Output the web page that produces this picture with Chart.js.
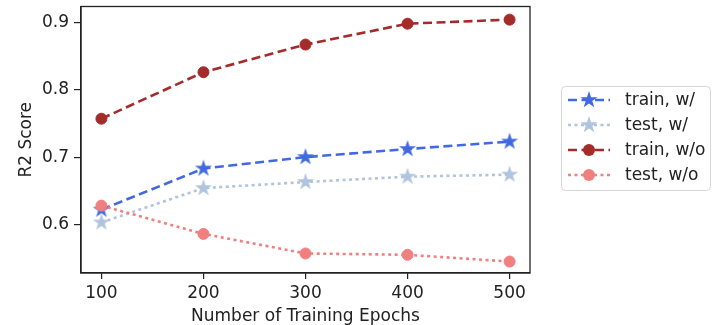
<!DOCTYPE html>
<html>
<head>
<meta charset="utf-8">
<script src="https://cdn.jsdelivr.net/npm/chart.js@4"></script>
<style>
  html, body { margin: 0; padding: 0; background: #fff; }
  #wrap { width: 720px; height: 325px; }
</style>
</head>
<body>
<div id="wrap"><canvas id="chart" width="720" height="325"></canvas></div>
<script>
// values
const epochs = [100, 200, 300, 400, 500];
const trainWith = [0.622, 0.683, 0.700, 0.712, 0.723];
const testWith = [0.603, 0.654, 0.663, 0.671, 0.674];
const trainWithout = [0.757, 0.826, 0.867, 0.898, 0.904];
const testWithout = [0.628, 0.586, 0.557, 0.555, 0.545];
const yTicks = [0.6, 0.7, 0.8, 0.9];
const xTicks = [100, 200, 300, 400, 500];
const labels = ['train, w/', 'test, w/', 'train, w/o', 'test, w/o'];

const TEXT = '#222';
const FONT = 'DejaVu Sans';
Chart.defaults.font.family = FONT;
Chart.defaults.color = TEXT;

// filled five point star, like matplotlib's '*' marker
function starImage(color, r) {
  const s = Math.ceil(r * 2 + 2);
  const c = document.createElement('canvas');
  c.width = s; c.height = s;
  const g = c.getContext('2d');
  g.translate(s / 2, s / 2);
  g.beginPath();
  for (let i = 0; i < 10; i++) {
    const rad = i % 2 ? r * 0.382 : r;
    const a = -Math.PI / 2 + i * Math.PI / 5;
    g.lineTo(rad * Math.cos(a), rad * Math.sin(a));
  }
  g.closePath();
  g.fillStyle = color;
  g.fill();
  return c;
}

const DASHED = [9, 4.5];
const DOTTED = [3, 3.5];

function series(label, values, color, dash, marker, order) {
  return {
    label: label,
    data: values.map((v, i) => ({ x: epochs[i], y: v })),
    borderColor: color,
    backgroundColor: color,
    borderWidth: 2.6,
    borderDash: dash,
    borderCapStyle: 'butt',
    pointStyle: marker === 'star' ? starImage(color, 9) : 'circle',
    pointRadius: 5.5,
    pointBorderWidth: 1,
    pointBackgroundColor: color,
    pointBorderColor: color,
    tension: 0,
    order: order,
    _marker: marker
  };
}

const datasets = [
  series(labels[0], trainWith, '#4169E1', DASHED, 'star', 4),
  series(labels[1], testWith, '#B0C4DE', DOTTED, 'star', 3),
  series(labels[2], trainWithout, '#A52A2A', DASHED, 'circle', 2),
  series(labels[3], testWithout, '#F08080', DOTTED, 'circle', 1)
];

// four spines around the plot area
const framePlugin = {
  id: 'frame',
  afterDatasetsDraw(chart) {
    const { ctx, chartArea: a } = chart;
    ctx.save();
    ctx.strokeStyle = TEXT;
    ctx.lineWidth = 1.3;
    ctx.strokeRect(a.left, a.top, a.right - a.left, a.bottom - a.top);
    ctx.restore();
  }
};

// matplotlib style legend box with line + marker handles
const legendPlugin = {
  id: 'boxLegend',
  afterDraw(chart) {
    const ctx = chart.ctx;
    const box = { x: 561, y: 86, w: 149, h: 104 };
    ctx.save();
    ctx.beginPath();
    ctx.roundRect(box.x + 0.5, box.y + 0.5, box.w, box.h, 4);
    ctx.fillStyle = 'rgba(255,255,255,0.8)';
    ctx.fill();
    ctx.strokeStyle = '#d6d6d6';
    ctx.lineWidth = 1;
    ctx.stroke();
    chart.data.datasets.forEach((ds, i) => {
      const y = 100 + i * 25;
      ctx.setLineDash(ds.borderDash);
      ctx.strokeStyle = ds.borderColor;
      ctx.lineWidth = ds.borderWidth;
      ctx.lineCap = 'butt';
      ctx.beginPath();
      ctx.moveTo(568, y);
      ctx.lineTo(610, y);
      ctx.stroke();
      ctx.setLineDash([]);
      if (ds._marker === 'star') {
        const img = ds.pointStyle;
        ctx.drawImage(img, 589 - img.width / 2, y - img.height / 2);
      } else {
        ctx.beginPath();
        ctx.arc(589, y, ds.pointRadius + 0.5, 0, Math.PI * 2);
        ctx.fillStyle = ds.backgroundColor;
        ctx.fill();
      }
      ctx.fillStyle = TEXT;
      ctx.font = '17px "' + FONT + '"';
      ctx.textBaseline = 'middle';
      ctx.textAlign = 'left';
      ctx.fillText(ds.label, 625, y + 1);
    });
    ctx.restore();
  }
};

new Chart(document.getElementById('chart'), {
  type: 'line',
  data: { datasets: datasets },
  options: {
    responsive: false,
    animation: false,
    layout: { padding: { top: 5, right: 190, left: 0, bottom: 0 } },
    plugins: { legend: { display: false }, tooltip: { enabled: false } },
    scales: {
      x: {
        type: 'linear',
        min: 80,
        max: 520,
        afterBuildTicks: s => { s.ticks = xTicks.map(v => ({ value: v })); },
        afterFit: s => { s.height = 52; s.paddingLeft = 0; s.paddingRight = 0; },
        ticks: { font: { size: 17 }, color: TEXT, padding: 4, maxRotation: 0, callback: v => String(v) },
        grid: { drawOnChartArea: false, drawTicks: true, tickLength: 6, color: TEXT, lineWidth: 1.2 },
        border: { display: true, color: TEXT, width: 1.3 },
        title: { display: true, text: 'Number of Training Epochs', font: { size: 17 }, color: TEXT, padding: { top: 0, bottom: -2 } }
      },
      y: {
        type: 'linear',
        min: 0.528,
        max: 0.9235,
        afterBuildTicks: s => { s.ticks = yTicks.map(v => ({ value: v })); },
        afterFit: s => { s.width = 81; s.paddingTop = 0; s.paddingBottom = 0; },
        ticks: { font: { size: 17 }, color: TEXT, padding: 5, callback: v => v.toFixed(1) },
        grid: { drawOnChartArea: false, drawTicks: true, tickLength: 7, color: TEXT, lineWidth: 1.2 },
        border: { display: true, color: TEXT, width: 1.3 },
        title: { display: true, text: 'R2 Score', font: { size: 17 }, color: TEXT, padding: { top: 16, bottom: 0 } }
      }
    }
  },
  plugins: [framePlugin, legendPlugin]
});
</script>
</body>
</html>
